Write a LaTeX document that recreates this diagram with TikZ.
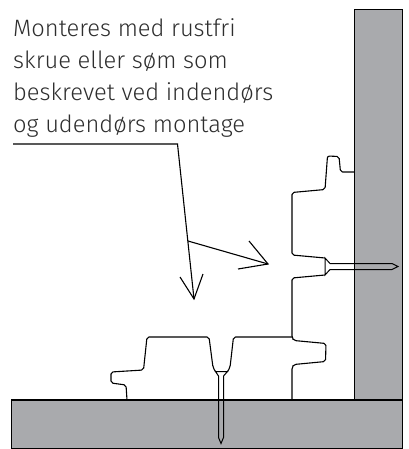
\documentclass[tikz,border=0pt]{standalone}
\usepackage{fontspec}
\setmainfont{Fira Sans}[UprightFont=* Light]
\definecolor{wallgray}{HTML}{A9AAAD}
\definecolor{txt}{HTML}{2E2E2E}
\tikzset{
  profile/.style={draw=black,line width=1.1pt,rounded corners=2pt,line join=round},
  fixing/.style={draw=black,line width=1pt,line join=miter},
  leader/.style={draw=black,line width=1.1pt},
  block/.style={fill=wallgray,draw=black,line width=1pt},
  label/.style={anchor=base west,inner sep=0pt,font=\fontsize{23.7}{32}\selectfont,text=txt}
}
\begin{document}
\begin{tikzpicture}[x=1pt,y=-1pt]
\useasboundingbox (0,0) rectangle (408,449);
\fill[white] (0,0) rectangle (408,449);
\draw[block] (354,9.5) rectangle (402.5,400);
\draw[block] (11,400) rectangle (402.5,448);
\draw[black,line width=1.5pt] (11,400) -- (402.5,400);
% vertical profile
\draw[profile] (354,172) -- (340.5,172) -- (339,156.5) -- (327.5,156) -- (325,189.5) -- (292,192.5) -- (292,255) -- (325,258);
\draw[profile] (325,275) -- (292,278) -- (292,338) -- (294,340.5) -- (326,343.5) -- (325.5,361.5) -- (294,364.5) -- (292,367) -- (292,400);
\draw[fixing] (325,258) -- (325,275) -- (330,269.5) -- (392,269.5) -- (398,266.5) -- (392,263.5) -- (330,263.5) -- cycle;
% horizontal profile
\draw[profile] (127,400) -- (126,385) -- (111,383) -- (111,372) -- (143.5,370) -- (147,337) -- (209,337) -- (213,367.5) -- (215.5,371.5);
\draw[profile] (227.5,371.5) -- (230,367.5) -- (233.5,337) -- (292,337);
\draw[fixing] (215.5,371.5) -- (227.5,371.5) -- (223.5,376) -- (223.5,437.5) -- (221,443.5) -- (218.5,437.5) -- (218.5,376) -- cycle;
% label
\node[label] (t1) at (13,37) {Monteres med rustfri};
\node[label] (t2) at (13,69) {skrue eller søm som};
\node[label] (t3) at (13,100.5) {beskrevet ved indendørs};
\node[label] (t4) at (13,133) {og udendørs montage};
% leader
\coordinate (l0) at (13,144);
\coordinate (l1) at (177.5,144);
\coordinate (l2) at (188,241);
\coordinate (a1) at (194,299);
\coordinate (a2) at (268,264);
\draw[leader,line join=miter] (l0) -- (l1) -- (a1);
\draw[leader] (l2) -- (a2);
\draw[leader] (180,277) -- (a1) -- (203,274);
\draw[leader] (249,241) -- (a2) -- (238,269);
\end{tikzpicture}
\end{document}
